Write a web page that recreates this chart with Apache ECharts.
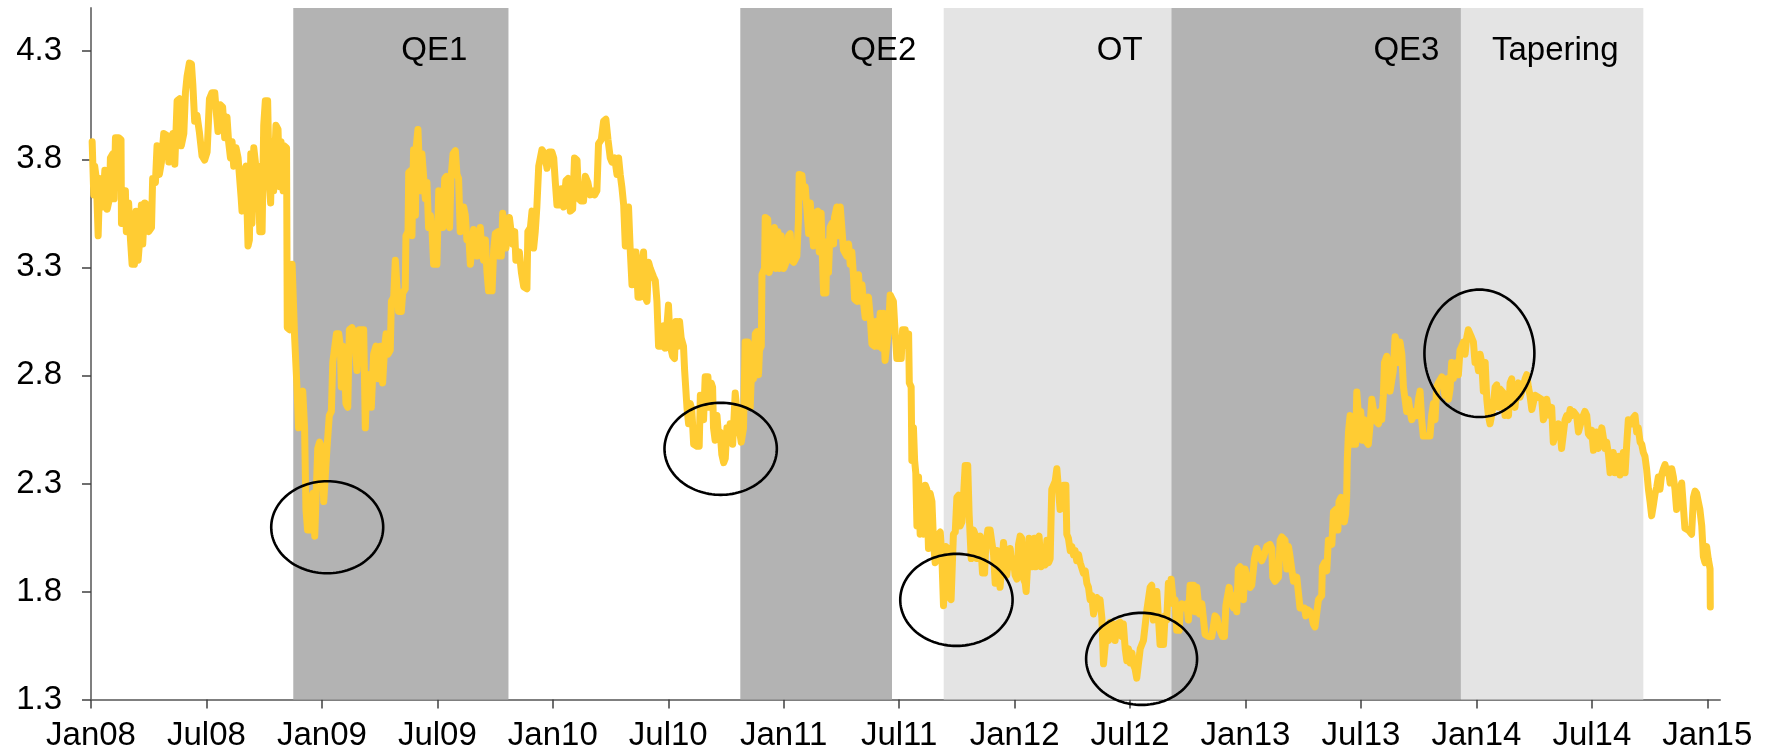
<!DOCTYPE html>
<html>
<head>
<meta charset="utf-8">
<script src="https://cdn.jsdelivr.net/npm/echarts@6/dist/echarts.min.js"></script>
<style>
html,body{margin:0;padding:0;background:#fff;}
#chart{width:1775px;height:755px;}
</style>
</head>
<body>
<div id="chart"></div>
<script>
// ---- data (x = decimal year, y = yield in %) ----
const xTickValues = [2008, 2008.5, 2009, 2009.5, 2010, 2010.5, 2011, 2011.5, 2012, 2012.5, 2013, 2013.5, 2014, 2014.5, 2015];
const xTickLabels = ['Jan08','Jul08','Jan09','Jul09','Jan10','Jul10','Jan11','Jul11','Jan12','Jul12','Jan13','Jul13','Jan14','Jul14','Jan15'];
const yTickValues = [1.3, 1.8, 2.3, 2.8, 3.3, 3.8, 4.3];

const periodNames = ['QE1', 'QE2', 'OT', 'QE3', 'Tapering'];
const periodStart = [2008.876, 2010.812, 2011.693, 2012.679, 2013.933];
const periodEnd   = [2009.808, 2011.469, 2012.679, 2013.933, 2014.723];

const highlightCenters = [[2009.023, 2.097], [2010.727, 2.460], [2011.748, 1.761], [2012.550, 1.488], [2014.013, 2.902]];
const highlightRadii   = [[0.2425, 0.213], [0.2433, 0.213], [0.2433, 0.213], [0.2403, 0.213], [0.2381, 0.295]];

const yieldSeries = [
[2008.005,3.881],[2008.012,3.635],[2008.016,3.768],[2008.023,3.711],[2008.031,3.446],[2008.038,3.711],[2008.048,3.692],[2008.051,3.579],[2008.060,3.749],[2008.070,3.569],[2008.080,3.617],[2008.084,3.806],[2008.094,3.825],[2008.100,3.617],[2008.106,3.900],[2008.120,3.900],[2008.130,3.891],[2008.132,3.503],[2008.142,3.503],[2008.149,3.654],[2008.153,3.465],[2008.163,3.598],[2008.171,3.427],[2008.178,3.314],[2008.188,3.314],[2008.195,3.560],[2008.204,3.333],[2008.211,3.427],[2008.218,3.588],[2008.224,3.408],[2008.233,3.598],[2008.243,3.588],[2008.250,3.465],[2008.262,3.484],[2008.267,3.711],[2008.279,3.692],[2008.286,3.862],[2008.296,3.730],[2008.305,3.787],[2008.315,3.919],[2008.329,3.910],[2008.337,3.787],[2008.345,3.881],[2008.354,3.919],[2008.363,3.777],[2008.373,4.071],[2008.384,4.080],[2008.391,3.862],[2008.402,3.919],[2008.409,4.108],[2008.416,4.184],[2008.426,4.245],[2008.435,4.241],[2008.441,4.146],[2008.449,3.976],[2008.459,4.004],[2008.469,3.929],[2008.481,3.815],[2008.492,3.796],[2008.503,3.834],[2008.513,4.080],[2008.524,4.108],[2008.536,4.108],[2008.543,4.014],[2008.550,3.929],[2008.560,4.052],[2008.570,4.042],[2008.579,3.900],[2008.589,3.995],[2008.596,3.881],[2008.604,3.806],[2008.611,3.881],[2008.618,3.768],[2008.628,3.853],[2008.637,3.806],[2008.643,3.806],[2008.650,3.626],[2008.654,3.560],[2008.661,3.730],[2008.671,3.768],[2008.680,3.399],[2008.686,3.427],[2008.692,3.825],[2008.697,3.503],[2008.705,3.853],[2008.712,3.787],[2008.719,3.617],[2008.723,3.768],[2008.731,3.465],[2008.741,3.465],[2008.748,3.957],[2008.755,4.071],[2008.765,4.071],[2008.772,3.692],[2008.778,3.598],[2008.784,3.881],[2008.791,3.654],[2008.801,3.957],[2008.810,3.938],[2008.817,3.673],[2008.823,3.881],[2008.832,3.654],[2008.837,3.862],[2008.847,3.853],[2008.850,3.021],[2008.860,3.011],[2008.871,3.314],[2008.878,3.314],[2008.882,2.973],[2008.892,2.746],[2008.899,2.557],[2008.907,2.708],[2008.917,2.727],[2008.925,2.557],[2008.931,2.179],[2008.938,2.084],[2008.947,2.084],[2008.953,2.216],[2008.961,2.254],[2008.969,2.056],[2008.976,2.065],[2008.982,2.462],[2008.990,2.491],[2009.000,2.462],[2009.008,2.216],[2009.015,2.207],[2009.022,2.462],[2009.032,2.614],[2009.041,2.633],[2009.047,2.860],[2009.055,2.860],[2009.063,2.992],[2009.073,2.992],[2009.080,2.935],[2009.084,2.746],[2009.090,2.935],[2009.099,2.822],[2009.104,2.670],[2009.112,2.652],[2009.119,3.011],[2009.130,3.021],[2009.142,2.992],[2009.152,2.822],[2009.162,3.011],
[2009.166,3.011],[2009.181,3.011],[2009.188,2.557],[2009.195,2.784],[2009.205,2.803],[2009.214,2.652],[2009.224,2.898],[2009.234,2.935],[2009.243,2.784],[2009.253,2.935],[2009.263,2.765],[2009.272,2.935],[2009.278,2.992],[2009.286,2.898],[2009.296,2.916],[2009.301,3.143],[2009.311,3.162],[2009.318,3.333],[2009.325,3.342],[2009.332,3.096],[2009.344,3.096],[2009.350,3.181],[2009.361,3.200],[2009.364,3.446],[2009.373,3.465],[2009.376,3.739],[2009.387,3.749],[2009.390,3.446],[2009.397,3.844],[2009.405,3.541],[2009.409,3.862],[2009.416,3.938],[2009.426,3.654],[2009.433,3.825],[2009.441,3.825],[2009.448,3.617],[2009.455,3.692],[2009.462,3.484],[2009.470,3.541],[2009.477,3.465],[2009.484,3.314],[2009.498,3.314],[2009.506,3.654],[2009.517,3.635],[2009.523,3.484],[2009.532,3.711],[2009.539,3.721],[2009.546,3.503],[2009.553,3.484],[2009.559,3.711],[2009.568,3.825],[2009.578,3.840],[2009.585,3.730],[2009.592,3.711],[2009.599,3.465],[2009.607,3.465],[2009.614,3.579],[2009.621,3.541],[2009.628,3.427],[2009.636,3.446],[2009.643,3.314],[2009.650,3.314],[2009.657,3.475],[2009.664,3.427],[2009.672,3.352],[2009.679,3.352],[2009.686,3.484],[2009.693,3.371],[2009.700,3.333],[2009.708,3.427],[2009.715,3.276],[2009.722,3.191],[2009.737,3.191],[2009.744,3.380],[2009.751,3.456],[2009.763,3.465],[2009.768,3.352],[2009.777,3.352],[2009.783,3.550],[2009.791,3.550],[2009.797,3.389],[2009.806,3.475],[2009.812,3.531],[2009.820,3.522],[2009.826,3.408],[2009.835,3.465],[2009.840,3.333],[2009.849,3.333],[2009.855,3.371],[2009.864,3.276],[2009.874,3.210],[2009.888,3.200],[2009.892,3.465],[2009.903,3.484],[2009.910,3.560],[2009.917,3.389],[2009.924,3.465],[2009.931,3.579],[2009.939,3.768],[2009.946,3.806],[2009.953,3.844],[2009.965,3.825],[2009.975,3.758],[2009.985,3.834],[2009.996,3.834],[2010.004,3.806],[2010.011,3.692],[2010.018,3.588],[2010.028,3.588],[2010.037,3.664],[2010.047,3.579],[2010.057,3.702],[2010.066,3.711],[2010.076,3.560],[2010.086,3.569],[2010.094,3.806],[2010.105,3.796],[2010.112,3.617],[2010.122,3.607],[2010.133,3.607],[2010.141,3.721],[2010.152,3.692],[2010.162,3.635],[2010.172,3.654],[2010.181,3.635],[2010.191,3.654],[2010.198,3.872],[2010.210,3.891],[2010.220,3.976],[2010.230,3.985],[2010.239,3.891],[2010.249,3.806],[2010.256,3.787],[2010.268,3.806],[2010.278,3.730],[2010.285,3.806],[2010.292,3.730],[2010.299,3.673],[2010.307,3.588],[2010.314,3.399],[2010.321,3.399],[2010.328,3.579],
[2010.335,3.389],[2010.343,3.219],[2010.350,3.371],[2010.360,3.371],[2010.369,3.162],[2010.379,3.162],[2010.386,3.314],[2010.393,3.371],[2010.400,3.162],[2010.408,3.143],[2010.415,3.323],[2010.422,3.295],[2010.429,3.295],[2010.436,3.257],[2010.444,3.238],[2010.451,3.143],[2010.458,2.935],[2010.473,2.935],[2010.480,3.030],[2010.487,2.926],[2010.494,2.935],[2010.501,3.125],[2010.509,2.935],[2010.519,2.888],[2010.527,2.878],[2010.533,3.049],[2010.542,2.935],[2010.549,3.049],[2010.556,2.973],[2010.562,2.973],[2010.566,2.935],[2010.571,2.822],[2010.576,2.822],[2010.581,2.652],[2010.588,2.576],[2010.595,2.670],[2010.602,2.642],[2010.610,2.481],[2010.624,2.472],[2010.634,2.472],[2010.639,2.708],[2010.646,2.689],[2010.653,2.595],[2010.660,2.793],[2010.672,2.793],[2010.677,2.652],[2010.686,2.765],[2010.692,2.746],[2010.696,2.557],[2010.703,2.500],[2010.711,2.614],[2010.718,2.519],[2010.725,2.538],[2010.732,2.434],[2010.740,2.396],[2010.747,2.415],[2010.754,2.557],[2010.761,2.519],[2010.768,2.576],[2010.773,2.557],[2010.779,2.481],[2010.790,2.718],[2010.797,2.718],[2010.805,2.557],[2010.812,2.519],[2010.816,2.491],[2010.822,2.500],[2010.826,2.557],[2010.833,2.954],[2010.845,2.954],[2010.851,2.935],[2010.855,2.652],[2010.859,2.775],[2010.865,2.784],[2010.869,2.784],[2010.877,2.992],[2010.884,3.002],[2010.891,2.803],[2010.895,2.916],[2010.903,2.935],[2010.906,3.266],[2010.917,3.295],[2010.920,3.531],[2010.931,3.522],[2010.937,3.276],[2010.946,3.314],[2010.952,3.465],[2010.960,3.484],[2010.966,3.295],[2010.975,3.465],[2010.981,3.295],[2010.989,3.446],[2011.000,3.295],[2011.007,3.304],[2011.014,3.333],[2011.021,3.446],[2011.028,3.456],[2011.035,3.333],[2011.043,3.323],[2011.050,3.323],[2011.057,3.352],[2011.064,3.522],[2011.067,3.730],[2011.079,3.726],[2011.086,3.626],[2011.093,3.673],[2011.100,3.579],[2011.108,3.456],[2011.115,3.598],[2011.122,3.484],[2011.129,3.399],[2011.136,3.550],[2011.148,3.560],[2011.154,3.371],[2011.162,3.550],[2011.168,3.333],[2011.173,3.181],[2011.183,3.181],[2011.187,3.418],[2011.194,3.276],[2011.201,3.484],[2011.209,3.503],[2011.216,3.408],[2011.220,3.531],[2011.230,3.579],[2011.237,3.446],[2011.245,3.579],[2011.252,3.588],[2011.259,3.380],[2011.266,3.389],[2011.273,3.352],[2011.281,3.408],[2011.288,3.314],[2011.295,3.371],[2011.302,3.266],[2011.307,3.153],[2011.317,3.143],[2011.324,3.266],[2011.331,3.143],[2011.339,3.219],[2011.346,3.134],[2011.353,3.068],[2011.360,3.125],[2011.367,3.162],[2011.375,3.068],[2011.382,2.945],[2011.393,2.935],[2011.399,3.049],[2011.408,2.935],[2011.418,3.087],[2011.425,2.926],[2011.432,3.087],[2011.439,2.869],[2011.447,2.869],[2011.454,3.011],[2011.461,3.172],[2011.468,3.181],[2011.475,3.143],[2011.483,2.992],[2011.490,2.878],[2011.497,2.878],
[2011.509,2.878],[2011.515,3.011],[2011.526,3.011],[2011.533,2.935],[2011.541,2.992],[2011.544,2.765],[2011.552,2.746],[2011.555,2.406],[2011.562,2.557],[2011.567,2.406],[2011.572,2.349],[2011.577,2.103],[2011.584,2.330],[2011.591,2.065],[2011.598,2.254],[2011.606,2.065],[2011.613,2.292],[2011.620,2.273],[2011.627,1.999],[2011.634,2.254],[2011.642,2.216],[2011.649,2.027],[2011.656,1.933],[2011.663,1.952],[2011.671,2.065],[2011.678,2.075],[2011.685,1.961],[2011.692,1.734],[2011.699,1.734],[2011.702,2.008],[2011.711,1.999],[2011.717,1.772],[2011.725,1.762],[2011.731,1.753],[2011.735,2.065],[2011.743,2.075],[2011.750,2.235],[2011.757,2.245],[2011.764,2.103],[2011.772,2.122],[2011.779,2.245],[2011.786,2.383],[2011.797,2.383],[2011.803,2.160],[2011.812,1.952],[2011.822,2.084],[2011.829,2.065],[2011.836,1.952],[2011.844,2.046],[2011.851,2.056],[2011.861,1.885],[2011.870,1.885],[2011.875,2.008],[2011.884,2.084],[2011.894,2.084],[2011.901,2.084],[2011.909,1.970],[2011.916,1.838],[2011.923,1.989],[2011.930,1.989],[2011.937,1.819],[2011.945,1.819],[2011.952,2.027],[2011.959,2.018],[2011.966,1.876],[2011.974,1.952],[2011.981,1.999],[2011.988,1.914],[2011.995,1.952],[2012.002,1.876],[2012.010,1.857],[2012.017,2.018],[2012.024,2.056],[2012.031,2.046],[2012.039,1.857],[2012.046,1.838],[2012.050,1.800],[2012.057,1.800],[2012.063,2.046],[2012.072,2.027],[2012.077,1.914],[2012.086,2.046],[2012.092,1.914],[2012.101,2.046],[2012.106,2.056],[2012.115,1.914],[2012.125,1.933],[2012.132,1.923],[2012.140,2.037],[2012.147,1.933],[2012.154,1.952],[2012.161,2.273],[2012.168,2.273],[2012.176,2.311],[2012.183,2.368],[2012.190,2.368],[2012.197,2.179],[2012.205,2.179],[2012.212,2.292],[2012.222,2.292],[2012.226,2.065],[2012.233,2.046],[2012.241,1.989],[2012.248,2.008],[2012.255,1.970],[2012.262,1.989],[2012.269,1.942],[2012.277,1.970],[2012.284,1.933],[2012.291,1.942],[2012.298,1.885],[2012.306,1.895],[2012.313,1.838],[2012.320,1.819],[2012.327,1.762],[2012.334,1.781],[2012.342,1.696],[2012.349,1.743],[2012.356,1.772],[2012.363,1.724],[2012.370,1.762],[2012.378,1.677],[2012.385,1.465],[2012.392,1.469],[2012.399,1.630],[2012.407,1.573],[2012.414,1.658],[2012.421,1.592],[2012.428,1.649],[2012.435,1.573],[2012.443,1.649],[2012.450,1.649],[2012.457,1.658],[2012.464,1.592],[2012.471,1.649],[2012.479,1.535],[2012.486,1.479],[2012.493,1.535],[2012.500,1.469],[2012.508,1.516],[2012.515,1.460],[2012.522,1.441],[2012.529,1.399],[2012.536,1.403],[2012.544,1.535],[2012.551,1.535],[2012.558,1.573],[2012.565,1.573],[2012.573,1.715],[2012.580,1.715],[2012.587,1.819],[2012.594,1.829],[2012.601,1.668],[2012.606,1.668],[2012.611,1.743],[2012.616,1.800],[2012.623,1.800],[2012.630,1.554],[2012.637,1.545],[2012.645,1.554],[2012.652,1.687],[2012.659,1.668],[2012.666,1.838],[2012.674,1.800],
[2012.678,1.857],[2012.688,1.743],[2012.695,1.762],[2012.702,1.620],[2012.713,1.620],[2012.717,1.724],[2012.724,1.743],[2012.731,1.724],[2012.739,1.724],[2012.746,1.743],[2012.753,1.668],[2012.760,1.829],[2012.775,1.829],[2012.782,1.706],[2012.789,1.819],[2012.796,1.819],[2012.801,1.696],[2012.811,1.743],[2012.818,1.743],[2012.825,1.601],[2012.832,1.592],[2012.840,1.592],[2012.847,1.583],[2012.854,1.592],[2012.861,1.639],[2012.868,1.687],[2012.876,1.677],[2012.883,1.639],[2012.890,1.620],[2012.900,1.592],[2012.909,1.592],[2012.915,1.734],[2012.923,1.743],[2012.929,1.819],[2012.936,1.810],[2012.941,1.743],[2012.948,1.724],[2012.955,1.781],[2012.962,1.706],[2012.969,1.904],[2012.977,1.914],[2012.987,1.895],[2012.991,1.762],[2012.998,1.904],[2013.005,1.895],[2013.013,1.829],[2013.020,1.819],[2013.027,1.829],[2013.034,1.838],[2013.039,1.952],[2013.049,1.999],[2013.056,2.008],[2013.063,1.961],[2013.070,1.942],[2013.078,1.961],[2013.085,1.952],[2013.092,2.008],[2013.106,2.018],[2013.114,1.999],[2013.118,1.866],[2013.128,1.847],[2013.135,1.838],[2013.143,1.866],[2013.150,2.037],[2013.157,2.052],[2013.164,2.056],[2013.171,2.037],[2013.179,1.904],[2013.186,2.008],[2013.193,1.961],[2013.200,1.904],[2013.208,1.847],[2013.215,1.838],[2013.222,1.866],[2013.229,1.857],[2013.236,1.724],[2013.246,1.724],[2013.255,1.724],[2013.261,1.687],[2013.270,1.715],[2013.275,1.715],[2013.280,1.706],[2013.287,1.687],[2013.294,1.649],[2013.301,1.636],[2013.309,1.639],[2013.316,1.762],[2013.323,1.753],[2013.330,1.781],[2013.333,1.914],[2013.342,1.933],[2013.352,1.895],[2013.359,2.037],[2013.366,2.037],[2013.374,2.018],[2013.381,2.169],[2013.391,2.179],[2013.400,2.084],[2013.405,2.216],[2013.414,2.235],[2013.420,2.141],[2013.428,2.122],[2013.434,2.160],[2013.438,2.235],[2013.441,2.415],[2013.446,2.538],[2013.453,2.614],[2013.460,2.557],[2013.467,2.481],[2013.472,2.566],[2013.477,2.481],[2013.482,2.723],[2013.489,2.718],[2013.493,2.557],[2013.499,2.633],[2013.506,2.500],[2013.514,2.595],[2013.521,2.595],[2013.525,2.491],[2013.532,2.481],[2013.540,2.576],[2013.547,2.689],[2013.554,2.689],[2013.561,2.595],[2013.568,2.595],[2013.576,2.576],[2013.583,2.633],[2013.590,2.595],[2013.597,2.708],[2013.602,2.860],[2013.612,2.888],[2013.619,2.822],[2013.626,2.727],[2013.633,2.718],[2013.640,2.822],[2013.648,2.979],[2013.655,2.935],[2013.662,2.860],[2013.669,2.954],[2013.677,2.898],[2013.684,2.746],[2013.691,2.689],[2013.698,2.633],[2013.705,2.689],[2013.713,2.633],[2013.720,2.595],[2013.727,2.614],[2013.734,2.633],[2013.742,2.614],[2013.749,2.689],[2013.756,2.727],[2013.763,2.595],[2013.770,2.519],[2013.778,2.510],[2013.785,2.519],[2013.792,2.510],[2013.799,2.519],[2013.806,2.614],[2013.814,2.670],[2013.821,2.595],[2013.828,2.746],[2013.835,2.765],
[2013.843,2.765],[2013.850,2.793],[2013.857,2.746],[2013.864,2.708],[2013.872,2.784],[2013.879,2.689],[2013.886,2.737],[2013.893,2.860],[2013.900,2.784],[2013.908,2.850],[2013.915,2.860],[2013.922,2.803],[2013.929,2.916],[2013.937,2.935],[2013.944,2.954],[2013.951,2.898],[2013.958,2.973],[2013.965,3.011],[2013.973,3.011],[2013.980,2.973],[2013.987,2.954],[2013.994,2.860],[2014.001,2.878],[2014.009,2.822],[2014.016,2.898],[2014.023,2.860],[2014.030,2.727],[2014.038,2.860],[2014.045,2.689],[2014.052,2.614],[2014.059,2.576],[2014.066,2.614],[2014.074,2.670],[2014.081,2.746],[2014.088,2.756],[2014.095,2.652],[2014.102,2.737],[2014.110,2.746],[2014.117,2.718],[2014.124,2.614],[2014.131,2.633],[2014.139,2.614],[2014.146,2.765],[2014.153,2.784],[2014.160,2.670],[2014.167,2.652],[2014.175,2.746],[2014.182,2.765],[2014.189,2.699],[2014.196,2.708],[2014.203,2.746],[2014.211,2.784],[2014.218,2.803],[2014.225,2.746],[2014.232,2.708],[2014.240,2.642],[2014.247,2.642],[2014.254,2.708],[2014.261,2.708],[2014.268,2.699],[2014.276,2.708],[2014.283,2.689],[2014.290,2.595],[2014.297,2.614],[2014.305,2.689],[2014.312,2.633],[2014.319,2.614],[2014.326,2.652],[2014.333,2.491],[2014.341,2.491],[2014.348,2.557],[2014.355,2.576],[2014.362,2.557],[2014.369,2.462],[2014.377,2.453],[2014.384,2.595],[2014.391,2.614],[2014.398,2.595],[2014.406,2.642],[2014.413,2.614],[2014.420,2.633],[2014.427,2.642],[2014.434,2.614],[2014.442,2.538],[2014.449,2.529],[2014.456,2.595],[2014.463,2.614],[2014.470,2.633],[2014.478,2.614],[2014.485,2.529],[2014.492,2.519],[2014.499,2.547],[2014.507,2.453],[2014.514,2.462],[2014.521,2.538],[2014.528,2.462],[2014.535,2.500],[2014.543,2.557],[2014.550,2.557],[2014.557,2.462],[2014.564,2.491],[2014.572,2.434],[2014.579,2.349],[2014.586,2.349],[2014.593,2.443],[2014.600,2.349],[2014.608,2.415],[2014.615,2.425],[2014.622,2.339],[2014.629,2.339],[2014.636,2.443],[2014.644,2.349],[2014.651,2.481],[2014.658,2.595],[2014.665,2.604],[2014.673,2.576],[2014.680,2.604],[2014.687,2.614],[2014.694,2.538],[2014.701,2.557],[2014.709,2.491],[2014.716,2.481],[2014.723,2.443],[2014.730,2.425],[2014.737,2.368],[2014.745,2.273],[2014.752,2.216],[2014.759,2.150],[2014.766,2.197],[2014.774,2.254],[2014.781,2.283],[2014.788,2.330],[2014.795,2.273],[2014.802,2.339],[2014.810,2.368],[2014.817,2.387],[2014.824,2.349],[2014.831,2.368],[2014.839,2.302],[2014.846,2.368],[2014.853,2.330],[2014.860,2.273],[2014.867,2.179],[2014.875,2.179],[2014.882,2.273],[2014.889,2.302],[2014.896,2.311],[2014.903,2.093],[2014.911,2.084],[2014.918,2.084],[2014.925,2.075],[2014.932,2.065],[2014.940,2.235],[2014.947,2.264],[2014.954,2.254],[2014.961,2.216],[2014.968,2.179],[2014.976,2.103],[2014.983,1.961],[2014.990,1.933],[2014.997,2.008],[2015.004,1.952],[2015.012,1.904],[2015.013,1.728]
];

// ---- styling / layout ----
const FONT = '"Liberation Sans", Arial, Helvetica, sans-serif';
const shadeColor = { QE1: '#b3b3b3', QE2: '#b3b3b3', OT: '#e4e4e4', QE3: '#b3b3b3', Tapering: '#e4e4e4' };
const labelDx = { QE1: 108, QE2: 110, OT: 153, QE3: 202, Tapering: 31 };

const areaData = periodNames.map((n, i) => [
  { name: n, xAxis: periodStart[i], itemStyle: { color: shadeColor[n] },
    label: { show: true, position: [labelDx[n], 26], color: '#000', fontSize: 33, fontFamily: FONT, formatter: '{b}' } },
  { xAxis: periodEnd[i] }
]);

const ellipseData = highlightCenters.map((c, i) => [c[0], c[1], highlightRadii[i][0], highlightRadii[i][1]]);

function xLabel(v) {
  for (let i = 0; i < xTickValues.length; i++) {
    if (Math.abs(xTickValues[i] - v) < 1e-6) return xTickLabels[i];
  }
  return '';
}

const chart = echarts.init(document.getElementById('chart'));
chart.setOption({
  animation: false,
  backgroundColor: '#ffffff',
  grid: { left: 91, right: 55, top: 8, bottom: 55.5, containLabel: false },
  xAxis: {
    type: 'value', min: 2008, max: 2015.055,
    axisLine: { show: true, lineStyle: { color: '#7f7f7f', width: 2 } },
    axisTick: { show: true, customValues: xTickValues, length: 9, lineStyle: { color: '#404040', width: 1.5 } },
    axisLabel: { customValues: xTickValues, formatter: xLabel, margin: 20, color: '#000', fontSize: 33, fontFamily: FONT },
    splitLine: { show: false }
  },
  yAxis: {
    type: 'value', min: 1.3, max: 4.5,
    axisLine: { show: true, lineStyle: { color: '#7f7f7f', width: 2 } },
    axisTick: { show: true, customValues: yTickValues, length: 9, lineStyle: { color: '#404040', width: 1.5 } },
    axisLabel: { customValues: yTickValues, formatter: v => v.toFixed(1), margin: 29, color: '#000', fontSize: 33, fontFamily: FONT },
    splitLine: { show: false }
  },
  series: [
    {
      name: 'periods', type: 'line', data: [], z: 1, silent: true,
      markArea: { silent: true, data: areaData }
    },
    {
      name: 'yield', type: 'line', data: yieldSeries, z: 3, showSymbol: false, symbol: 'none',
      silent: true,
      lineStyle: { color: '#ffcc33', width: 7, cap: 'round', join: 'round' }
    },
    {
      name: 'highlights', type: 'custom', data: ellipseData, z: 4, silent: true,
      renderItem: function (params, api) {
        const c = api.coord([api.value(0), api.value(1)]);
        const s = api.size([api.value(2), api.value(3)]);
        const pts = [];
        const n = 120;
        for (let k = 0; k < n; k++) {
          const a = 2 * Math.PI * k / n;
          pts.push([c[0] + s[0] * Math.cos(a), c[1] + s[1] * Math.sin(a)]);
        }
        return { type: 'polygon', shape: { points: pts }, style: { fill: 'none', stroke: '#000', lineWidth: 2.6 } };
      }
    }
  ]
});
</script>
</body>
</html>
